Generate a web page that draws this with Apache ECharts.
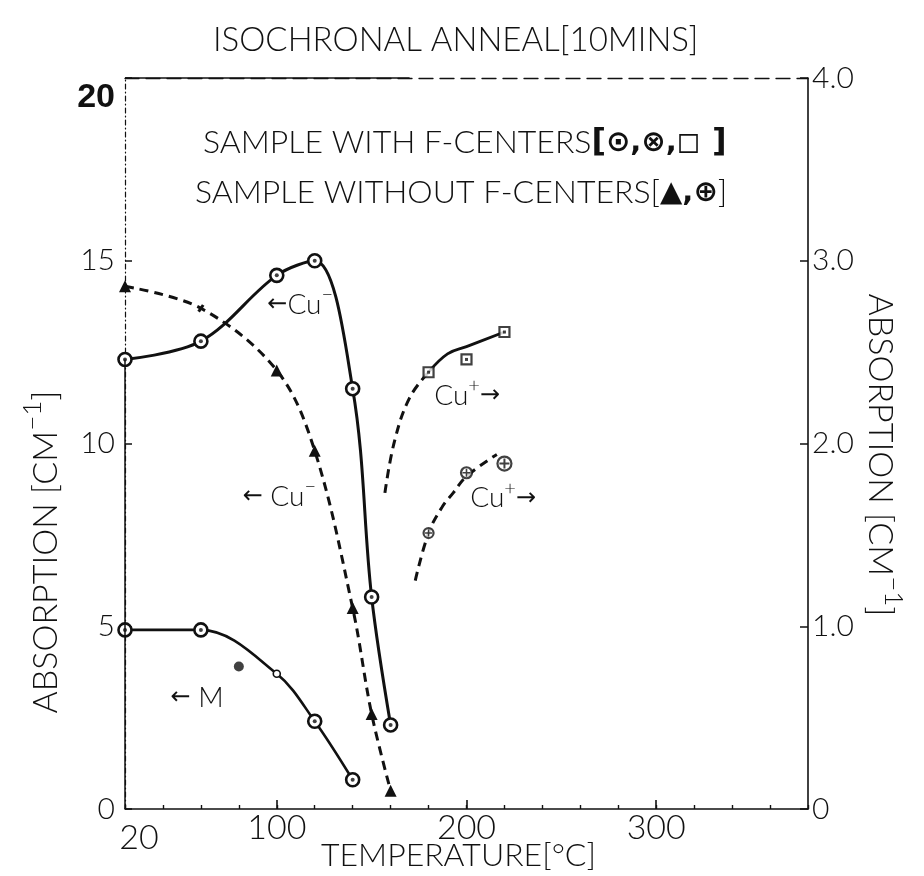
<!DOCTYPE html>
<html>
<head>
<meta charset="utf-8">
<title>Isochronal anneal</title>
<script src="https://cdn.jsdelivr.net/npm/echarts@6/dist/echarts.min.js"></script>
<style>
  html, body { margin: 0; padding: 0; background: #fff; }
  #chart { width: 924px; height: 876px; }
</style>
</head>
<body>
<div id="chart"></div>
<script>
// ---- axis ranges and ticks ----
const tempMin = 20, tempMax = 380;
const tempLabelValues = [20, 100, 200, 300];
const tempMajorTicks = [100, 200, 300];
const leftMax = 20, rightMax = 4;

// ---- Cu- band, sample with F-centres (left scale, cm^-1) ----
const cuMinusTemps = [20, 60, 100, 120, 140, 150, 160];
const cuMinusWithF = [12.3, 12.8, 14.6, 15.0, 11.5, 5.8, 2.3];

// ---- Cu- band, sample without F-centres (left scale) ----
const cuMinusNoFTemps = [20, 60, 100, 120, 140, 150, 160];
const cuMinusNoF = [14.3, 13.7, 12.0, 9.8, 5.5, 2.6, 0.5];

// ---- M band, sample with F-centres (left scale) ----
const mTemps = [20, 60, 100, 120, 140];
const mWithF = [4.9, 4.9, 3.7, 2.4, 0.8];
const mExtraTemps = [80];
const mExtra = [3.9];

// ---- Cu+ band (right scale, cm^-1) ----
const cuPlusTemps = [180, 200, 220];
const cuPlusWithF = [2.39, 2.46, 2.61];
const cuPlusNoF = [1.51, 1.84, 1.89];

// ---- hand-drawn trend curves through the Cu+ points (right scale) ----
const cuPlusWithFTrendDashTemps = [157, 162, 170, 180];
const cuPlusWithFTrendDash = [1.73, 2.01, 2.25, 2.39];
const cuPlusWithFTrendTemps = [180, 190, 200, 220];
const cuPlusWithFTrend = [2.39, 2.49, 2.53, 2.61];
const cuPlusNoFTrendTemps = [173, 180, 187, 193, 200, 216];
const cuPlusNoFTrend = [1.25, 1.51, 1.65, 1.73, 1.82, 1.94];

// ---- styling ----
const ink = '#111';
const letterFont = 'Lato, "DejaVu Sans", sans-serif';
const symFont = '"DejaVu Sans", sans-serif';
const dash = [9, 6];

const xy = (xs, ys) => xs.map((x, i) => [x, ys[i]]);

const chart = echarts.init(document.getElementById('chart'), null, { renderer: 'canvas' });

const labelBase = { color: ink, fontFamily: letterFont, fontWeight: 300 };

const option = {
  animation: false,
  backgroundColor: '#fff',
  grid: { left: 125, right: 116, top: 78, bottom: 67, containLabel: false, outerBoundsMode: 'none' },
  xAxis: [
    {
      type: 'value', min: tempMin, max: tempMax, interval: 20, position: 'bottom',
      axisLine: { onZero: false, lineStyle: { color: ink, width: 1.6 } },
      axisTick: { inside: true, length: 4, lineStyle: { color: ink, width: 1.4 } },
      axisLabel: Object.assign({}, labelBase, {
        customValues: tempLabelValues, fontSize: 34, margin: 2,
        formatter: v => v === 20 ? '{s|20}' : String(v),
        rich: { s: Object.assign({}, labelBase, { fontSize: 34, padding: [10, 0, 0, 28] }) }
      }),
      splitLine: { show: false },
      name: 'TEMPERATURE[°C]', nameLocation: 'middle', nameGap: 31, nameMoveOverlap: false,
      nameTextStyle: Object.assign({}, labelBase, { fontSize: 32, padding: [0, 16, 0, 0] })
    },
    {
      type: 'value', min: tempMin, max: tempMax, position: 'bottom',
      axisLine: { show: false, onZero: false },
      axisTick: { inside: true, length: 9, customValues: tempMajorTicks, lineStyle: { color: ink, width: 1.6 } },
      axisLabel: { show: false }, splitLine: { show: false }
    },
    {
      type: 'value', min: tempMin, max: tempMax, position: 'top',
      axisLine: { onZero: false, lineStyle: { color: ink, width: 1.3, type: [14, 7] } },
      axisTick: { show: false }, axisLabel: { show: false }, splitLine: { show: false }
    }
  ],
  yAxis: [
    {
      type: 'value', min: 0, max: leftMax, interval: 5, position: 'left',
      axisLine: { show: true, onZero: false, lineStyle: { color: ink, width: 1.2, type: [5, 3, 1, 3] } },
      axisTick: { show: true, inside: true, length: 7, lineStyle: { color: ink, width: 1.5 } },
      axisLabel: Object.assign({}, labelBase, {
        fontSize: 30, margin: 10,
        formatter: v => v === 20 ? '{b|20}' : String(v),
        rich: { b: { color: ink, fontFamily: '"Liberation Sans", sans-serif', fontWeight: 'bold', fontSize: 34, padding: [40, 0, 0, 0] } }
      }),
      splitLine: { show: false }
    },
    {
      type: 'value', min: 0, max: rightMax, interval: 1, position: 'right',
      axisLine: { show: true, onZero: false, lineStyle: { color: ink, width: 1.6 } },
      axisTick: { show: true, inside: true, length: 8, lineStyle: { color: ink, width: 1.5 } },
      axisLabel: Object.assign({}, labelBase, {
        fontSize: 30, margin: 4,
        formatter: v => v === 0 ? '0' : v.toFixed(1)
      }),
      splitLine: { show: false }
    }
  ],
  series: [
    // Cu- band with F-centres: solid curve, ringed points
    {
      name: 'Cu- (with F-centres)', type: 'line', xAxisIndex: 0, yAxisIndex: 0,
      data: xy(cuMinusTemps, cuMinusWithF), smooth: 0.35, clip: false,
      symbol: 'circle', symbolSize: 13, showAllSymbol: true,
      itemStyle: { color: '#fff', borderColor: ink, borderWidth: 2.6 },
      lineStyle: { color: ink, width: 3 }, z: 3,
      markLine: {
        silent: true, symbol: ['none', 'none'], label: { show: false },
        lineStyle: { color: ink, width: 1.5, type: 'solid' },
        data: [
          [{ coord: [tempMin, 0] }, { coord: [tempMin, 12.3] }],
          [{ coord: [tempMin, leftMax] }, { coord: [170, leftMax] }]
        ]
      }
    },
    {
      type: 'scatter', xAxisIndex: 0, yAxisIndex: 0, silent: true, clip: false,
      data: xy(cuMinusTemps, cuMinusWithF), symbol: 'circle', symbolSize: 4,
      itemStyle: { color: ink }, z: 6
    },
    // Cu- band without F-centres: dashed curve, triangles
    {
      name: 'Cu- (without F-centres)', type: 'line', xAxisIndex: 0, yAxisIndex: 0,
      data: xy(cuMinusNoFTemps, cuMinusNoF).map(p => p[0] === 60
        ? { value: p, symbol: 'rect', symbolSize: [3, 8], symbolRotate: -35 }
        : { value: p }),
      smooth: 0.35, clip: false,
      symbol: 'triangle', symbolSize: 12, showAllSymbol: true,
      itemStyle: { color: ink },
      lineStyle: { color: ink, width: 3, type: dash }, z: 3
    },
    // M band: solid curve
    {
      name: 'M (with F-centres)', type: 'line', xAxisIndex: 0, yAxisIndex: 0,
      data: xy(mTemps, mWithF).map(p => p[0] === 100
        ? { value: p, symbolSize: 7, itemStyle: { borderWidth: 1.6 } }
        : { value: p }),
      smooth: 0.35, clip: false,
      symbol: 'circle', symbolSize: 13, showAllSymbol: true,
      itemStyle: { color: '#fff', borderColor: ink, borderWidth: 2.6 },
      lineStyle: { color: ink, width: 2.6 }, z: 3
    },
    {
      type: 'scatter', xAxisIndex: 0, yAxisIndex: 0, silent: true, clip: false,
      data: xy(mTemps, mWithF).filter(p => p[0] !== 100), symbol: 'circle', symbolSize: 4,
      itemStyle: { color: ink }, z: 6
    },
    {
      name: 'M (single reading)', type: 'scatter', xAxisIndex: 0, yAxisIndex: 0, clip: false,
      data: xy(mExtraTemps, mExtra), symbol: 'circle', symbolSize: 10,
      itemStyle: { color: ink }, z: 4
    },
    // Cu+ band with F-centres: trend curve (dashed extrapolation + solid) and squares
    {
      type: 'line', xAxisIndex: 0, yAxisIndex: 1, silent: true, clip: false,
      data: xy(cuPlusWithFTrendDashTemps, cuPlusWithFTrendDash), smooth: 0.4,
      symbol: 'none', lineStyle: { color: ink, width: 3, type: dash }, z: 2
    },
    {
      type: 'line', xAxisIndex: 0, yAxisIndex: 1, silent: true, clip: false,
      data: xy(cuPlusWithFTrendTemps, cuPlusWithFTrend), smooth: 0.4,
      symbol: 'none', lineStyle: { color: ink, width: 2.8 }, z: 2
    },
    {
      name: 'Cu+ (with F-centres)', type: 'scatter', xAxisIndex: 0, yAxisIndex: 1, clip: false,
      data: xy(cuPlusTemps, cuPlusWithF), symbol: 'rect', symbolSize: 10,
      itemStyle: { color: '#fff', borderColor: ink, borderWidth: 2.2 }, z: 4
    },
    {
      type: 'scatter', xAxisIndex: 0, yAxisIndex: 1, silent: true, clip: false,
      data: xy(cuPlusTemps, cuPlusWithF), symbol: 'rect', symbolSize: 3,
      itemStyle: { color: ink }, z: 6
    },
    // Cu+ band without F-centres: dashed trend and crossed circles
    {
      type: 'line', xAxisIndex: 0, yAxisIndex: 1, silent: true, clip: false,
      data: xy(cuPlusNoFTrendTemps, cuPlusNoFTrend), smooth: 0.4,
      symbol: 'none', lineStyle: { color: ink, width: 3, type: dash }, z: 2
    },
    {
      name: 'Cu+ (without F-centres)', type: 'scatter', xAxisIndex: 0, yAxisIndex: 1, clip: false,
      data: xy(cuPlusTemps, cuPlusNoF).map((p, i) => ({ value: p, symbolSize: [10, 11, 14][i] })),
      symbol: 'circle',
      itemStyle: { color: '#fff', borderColor: ink, borderWidth: 2.2 }, z: 4
    },
    {
      type: 'scatter', xAxisIndex: 0, yAxisIndex: 1, silent: true, clip: false,
      data: xy(cuPlusTemps, cuPlusNoF).map((p, i) => ({ value: p, symbolSize: [7, 8, 10][i] })),
      symbol: 'path://M4,0 L6,0 L6,4 L10,4 L10,6 L6,6 L6,10 L4,10 L4,6 L0,6 L0,4 L4,4 Z',
      itemStyle: { color: ink }, z: 6
    }
  ]
};

chart.setOption(option);

// ---- text: title, key lines, curve annotations, axis titles ----
const toPx = (t, v, yIdx) => chart.convertToPixel({ xAxisIndex: 0, yAxisIndex: yIdx || 0 }, [t, v]);

function letterStyle(size) {
  return { fill: ink, fontFamily: letterFont, fontWeight: 300, fontSize: size };
}

function textEl(pos, text, rich, size, extra) {
  return Object.assign({
    type: 'text', x: pos[0], y: pos[1], silent: true, z: 10,
    style: Object.assign(letterStyle(size), {
      text: text, rich: rich, align: 'left', verticalAlign: 'middle'
    })
  }, extra || {});
}

const supRich = size => ({
  t: letterStyle(size),
  a: { fill: ink, fontFamily: symFont, fontSize: size - 4 },
  s: Object.assign(letterStyle(size - 8), { padding: [0, 0, size - 8, 0] })
});

const keyRich = {
  t: letterStyle(32),
  b: { fill: ink, fontFamily: symFont, fontWeight: 'bold', fontSize: 32 },
  k: { fill: ink, fontFamily: symFont, fontWeight: 'bold', fontSize: 29 }
};

const graphics = [
  textEl([213, 40], 'ISOCHRONAL ANNEAL[10MINS]', null, 33),
  textEl([203, 143], '{t|SAMPLE WITH F-CENTERS}{b|[}{k|⊙,⊗,◻}{b| ]}', keyRich, 32),
  textEl([195, 193], '{t|SAMPLE WITHOUT F-CENTERS[}{k|▲,⊕}{t|]}', keyRich, 32),
  textEl(toPx(95, 13.8), '{a|←}{t|Cu}{s|−}', supRich(28), 28),
  textEl(toPx(82, 8.55), '{a|←}{t| Cu}{s|−}', supRich(28), 28),
  textEl(toPx(44, 3.05), '{a|←}{t| M}', supRich(28), 28),
  textEl(toPx(183, 2.26, 1), '{t|Cu}{s|+}{a|→}', supRich(28), 28),
  textEl(toPx(202, 1.70, 1), '{t|Cu}{s|+}{a|→}', supRich(28), 28),
  // axis titles
  Object.assign(textEl([46, 552], '{t|ABSORPTION [CM}{s|−1}{t|]}', supRich(34), 34), { rotation: Math.PI / 2 }),
  Object.assign(textEl([880, 455], '{t|ABSORPTION [CM}{s|−1}{t|]}', supRich(34), 34), { rotation: -Math.PI / 2 })
];
graphics[8].style.align = 'center';
graphics[9].style.align = 'center';

chart.setOption({ graphic: { elements: graphics } });
</script>
</body>
</html>
